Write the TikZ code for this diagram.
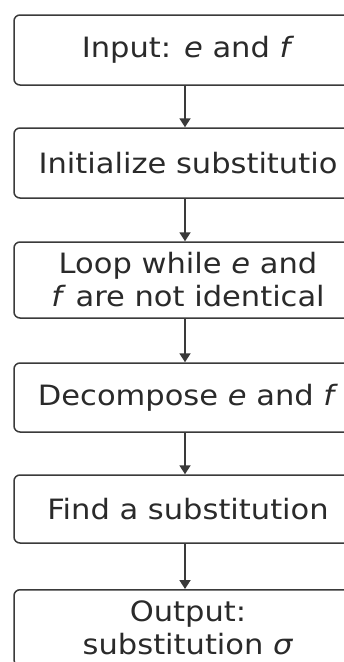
\documentclass[tikz,border=0pt]{standalone}
\usepackage{fontspec}
\setmainfont{DejaVu Sans}[FakeStretch=1.09]
\usetikzlibrary{arrows.meta}
\definecolor{edge}{HTML}{3A3A3A}
\definecolor{ink}{HTML}{2A2A2A}
\begin{document}
\begin{tikzpicture}[x=1pt,y=-1pt,
  stepbox/.style={draw=edge, line width=1.5pt, rounded corners=6pt, fill=white,
    minimum width=348pt, align=center, text=ink, inner sep=0pt,
    font=\fontsize{28}{33}\selectfont},
  flow/.style={draw=edge, line width=1.8pt, -{Triangle[length=9pt,width=11pt]}}]
  \useasboundingbox (0,0) rectangle (344,662);
  \fill[white] (0,0) rectangle (344,662);
  \clip (0,0) rectangle (344,662);
  % process steps, top to bottom
  \node[stepbox, minimum height=70pt] (input) at (188,50) {Input: \textit{e} and \textit{f}};
  \node[stepbox, minimum height=70pt] (init) at (188,163) {Initialize substitutio};
  \node[stepbox, minimum height=76pt] (loop) at (188,280) {Loop while \textit{e} and\\\textit{f} are not identical};
  \node[stepbox, minimum height=69pt] (decomp) at (188,397.5) {Decompose \textit{e} and \textit{f}};
  \node[stepbox, minimum height=68pt] (find) at (188,509) {Find a substitution};
  \node[stepbox, minimum height=76pt, anchor=north] (output) at (188,589) {Output:\\substitution \textit{σ}};
  % spine of the flow
  \coordinate (spine) at (185,0);
  \draw[flow] (input.south -| spine) -- (init.north -| spine);
  \draw[flow] (init.south -| spine) -- (loop.north -| spine);
  \draw[flow] (loop.south -| spine) -- (decomp.north -| spine);
  \draw[flow] (decomp.south -| spine) -- (find.north -| spine);
  \draw[flow] (find.south -| spine) -- (output.north -| spine);
\end{tikzpicture}
\end{document}
